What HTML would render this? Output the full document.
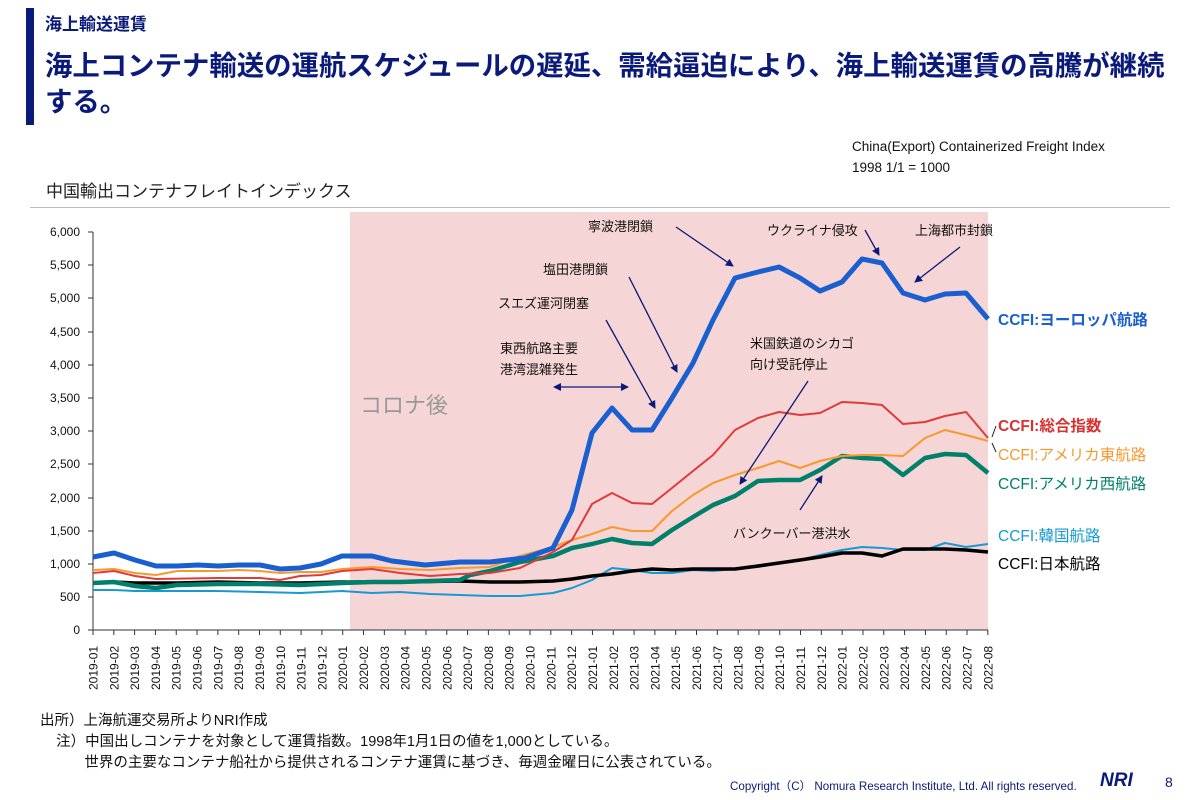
<!DOCTYPE html>
<html><head><meta charset="utf-8"><style>
body{margin:0;width:1200px;height:800px;background:#fff;position:relative;overflow:hidden;font-family:"Liberation Sans","Noto Sans CJK JP",sans-serif}
.a{position:absolute;white-space:nowrap}
</style></head><body>
<div class="a" style="left:26px;top:8px;width:8px;height:117px;background:#0a1a7a"></div>
<div class="a" style="left:45px;top:10px;font-size:17px;font-weight:bold;color:#0a1a7a">海上輸送運賃</div>
<div class="a" style="left:45px;top:48px;font-size:27.4px;font-weight:bold;color:#0a1a7a;line-height:36px">海上コンテナ輸送の運航スケジュールの遅延、需給逼迫により、海上輸送運賃の高騰が継続<br>する。</div>
<div class="a" style="left:852px;top:136px;font-size:13.5px;color:#111;line-height:21px">China(Export) Containerized Freight Index<br>1998 1/1 = 1000</div>
<div class="a" style="left:46px;top:177px;font-size:17px;color:#222">中国輸出コンテナフレイトインデックス</div>
<div class="a" style="left:30px;top:207px;width:1140px;height:1px;background:#bbb"></div>

<svg class="a" style="left:0;top:0" width="1200" height="800">
<rect x="350" y="212" width="638" height="418" fill="#f5d5d5"/>
<text x="360" y="413" font-size="22" fill="#999">コロナ後</text>
<g font-size="12" fill="#111" text-anchor="end">
<text x="80" y="236">6,000</text><text x="80" y="269">5,500</text><text x="80" y="302">5,000</text><text x="80" y="336">4,500</text><text x="80" y="369">4,000</text><text x="80" y="402">3,500</text><text x="80" y="435">3,000</text><text x="80" y="468">2,500</text><text x="80" y="502">2,000</text><text x="80" y="535">1,500</text><text x="80" y="568">1,000</text><text x="80" y="601">500</text><text x="80" y="634">0</text>
</g>
<g stroke="#333" stroke-width="1">
<line x1="93" y1="232" x2="93" y2="630"/><line x1="93" y1="630" x2="988" y2="630"/>
<path d="M88 232H93M88 265H93M88 298H93M88 332H93M88 365H93M88 398H93M88 431H93M88 464H93M88 498H93M88 531H93M88 564H93M88 597H93M88 630H93"/>
</g>
<g id="xl" font-size="12" fill="#111"></g>
<g fill="none" stroke-linejoin="round">
<polyline stroke="#169ad3" stroke-width="2" points="93,590 114,590 135,591 177,591 218,591 260,592 300,593 342,591 372,593 400,592 430,594 460,595 490,596 520,596 553,593 572,588 592,580 612,568 632,570 652,573 672,573 693,570 713,571 735,569 758,567 779,563 800,560 820,555 842,550 862,547 882,548 903,550 925,550 945,543 966,547 988,544"/>
<polyline stroke="#000" stroke-width="3.5" points="93,583 114,582 135,583 177,583 218,582 260,583 300,583 342,582 400,582 460,581 490,582 520,582 553,581 572,579 592,576 612,574 632,571 652,569 672,570 693,569 713,569 735,569 758,566 779,563 800,560 820,557 842,553 862,553 882,556 903,549 925,549 945,549 966,550 988,552"/>
<polyline stroke="#00806a" stroke-width="4.5" points="93,583 114,582 135,586 156,588 177,585 218,584 260,584 300,585 342,583 372,582 400,582 430,581 460,580 470,575 490,571 520,562 553,556 572,548 592,544 612,539 632,543 652,544 672,530 693,517 713,505 735,496 758,481 779,480 800,480 820,470 842,456 862,458 882,459 903,475 925,458 945,454 966,455 988,473"/>
<polyline stroke="#f7992f" stroke-width="2" points="93,570 114,569 135,573 156,575 177,571 218,571 239,570 260,571 280,573 300,572 321,572 342,569 372,567 400,569 430,570 460,568 490,567 520,556 553,547 572,540 592,534 612,527 632,531 652,531 672,511 693,495 713,483 735,475 758,468 779,461 800,468 820,461 842,456 862,455 882,455 903,456 925,438 945,430 966,435 988,441"/>
<polyline stroke="#e03a3a" stroke-width="2" points="93,573 114,571 135,576 156,579 218,578 260,578 280,580 300,576 321,575 342,571 372,569 400,573 430,576 460,574 490,573 520,568 553,552 572,540 592,504 612,493 632,503 652,504 672,488 693,471 713,455 735,430 758,418 779,412 800,415 820,413 842,402 862,403 882,405 903,424 925,422 945,416 966,412 988,438"/>
<polyline stroke="#1a5fd0" stroke-width="5" points="93,557 114,553 135,560 156,566 177,566 198,565 218,566 239,565 260,565 280,569 300,568 321,564 342,556 372,556 392,561 425,565 460,562 490,562 525,558 553,548 572,510 592,433 612,408 632,430 652,430 672,398 693,363 713,320 735,278 758,272 779,267 800,278 820,291 842,282 862,259 882,263 903,293 925,300 945,294 966,293 988,319"/>
</g>
<defs><marker id="m" markerWidth="8" markerHeight="8" refX="7" refY="4" orient="auto" markerUnits="userSpaceOnUse"><path d="M0,0L8,4L0,8z" fill="#0a1a7a"/></marker>
<marker id="m2" markerWidth="8" markerHeight="8" refX="1" refY="4" orient="auto-start-reverse" markerUnits="userSpaceOnUse"><path d="M0,0L8,4L0,8z" fill="#0a1a7a"/></marker></defs>
<g stroke="#0a1a7a" stroke-width="1.3" fill="none">
<line x1="676" y1="227" x2="733" y2="266" marker-end="url(#m)"/>
<line x1="629" y1="277" x2="677" y2="372" marker-end="url(#m)"/>
<line x1="606" y1="320" x2="655" y2="408" marker-end="url(#m)"/>
<line x1="560" y1="387" x2="628" y2="387" marker-start="url(#m2)" marker-end="url(#m)"/>
<line x1="865" y1="230" x2="879" y2="255" marker-end="url(#m)"/>
<line x1="960" y1="247" x2="915" y2="282" marker-end="url(#m)"/>
<line x1="808" y1="381" x2="740" y2="484" marker-end="url(#m)"/>
<line x1="800" y1="510" x2="822" y2="476" marker-end="url(#m)"/>
</g>
<g font-size="13" fill="#111">
<text x="588" y="231">寧波港閉鎖</text>
<text x="543" y="274">塩田港閉鎖</text>
<text x="498" y="308">スエズ運河閉塞</text>
<text x="500" y="353">東西航路主要</text>
<text x="500" y="374">港湾混雑発生</text>
<text x="767" y="235">ウクライナ侵攻</text>
<text x="915" y="235">上海都市封鎖</text>
<text x="750" y="348">米国鉄道のシカゴ</text>
<text x="750" y="369">向け受託停止</text>
<text x="733" y="538">バンクーバー港洪水</text>
</g>
<path d="M996 426L992 437M992 443L996 452" stroke="#222" stroke-width="1"/>
<g font-size="15.5">
<text x="998" y="325" fill="#1a5fd0" font-weight="bold">CCFI:ヨーロッパ航路</text>
<text x="998" y="431" fill="#d93030" font-weight="bold">CCFI:総合指数</text>
<text x="998" y="460" fill="#f7992f">CCFI:アメリカ東航路</text>
<text x="998" y="489" fill="#00806a">CCFI:アメリカ西航路</text>
<text x="998" y="541" fill="#169ad3">CCFI:韓国航路</text>
<text x="998" y="569" fill="#000">CCFI:日本航路</text>
</g>
</svg>
<div class="a" style="left:40px;top:711px;font-size:14.5px;color:#111;line-height:21px">出所）上海航運交易所よりNRI作成<br>&nbsp;&nbsp;&nbsp;&nbsp;注）中国出しコンテナを対象として運賃指数。1998年1月1日の値を1,000としている。<br>&nbsp;&nbsp;&nbsp;&nbsp;&nbsp;&nbsp;&nbsp;&nbsp;&nbsp;&nbsp;&nbsp;世界の主要なコンテナ船社から提供されるコンテナ運賃に基づき、毎週金曜日に公表されている。</div>
<div class="a" style="left:730px;top:778px;font-size:11.6px;color:#0a1a7a">Copyright（C） Nomura Research Institute, Ltd. All rights reserved.</div>
<div class="a" style="left:1100px;top:770px;font-size:19px;font-weight:bold;font-style:italic;color:#0a1a7a">NRI</div>
<div class="a" style="left:1165px;top:774px;font-size:14px;color:#0a1a7a">8</div>
<script>
var g=document.getElementById('xl'),s='';
for(var i=0;i<44;i++){var y=2019+Math.floor(i/12),m=i%12+1,x=93+i*20.81;
s+='<line x1="'+x+'" y1="630" x2="'+x+'" y2="635" stroke="#333"/>';
s+='<text transform="translate('+(x+4.5)+',690) rotate(-90)">'+y+'-'+(m<10?'0':'')+m+'</text>';}
g.innerHTML=s;
</script>
</body></html>
